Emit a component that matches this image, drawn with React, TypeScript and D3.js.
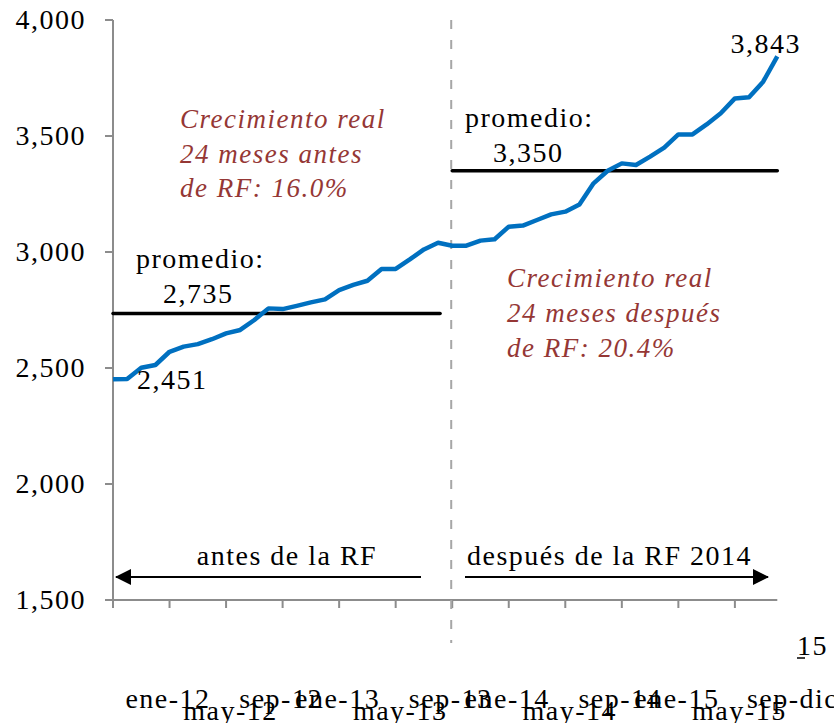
import React from "react";
import * as d3 from "d3";

// monthly values, ene-12 .. dic-15
const months = d3.range(48);
const values = [
  2451, 2453, 2501, 2513, 2570, 2592, 2603, 2624, 2649, 2664, 2707, 2757,
  2754, 2768, 2783, 2796, 2836, 2858, 2876, 2927, 2927, 2968, 3011, 3040,
  3027, 3027, 3049, 3055, 3109, 3114, 3138, 3162, 3174, 3205, 3296, 3350,
  3382, 3375, 3411, 3450, 3507, 3507, 3550, 3598, 3662, 3667, 3734, 3843,
];
const yTicks = [1500, 2000, 2500, 3000, 3500, 4000];
const xTickIdx = [0, 4, 8, 12, 16, 20, 24, 28, 32, 36, 40, 44];
const xTickLabels = [
  "ene-12", "may-12", "sep-12", "ene-13", "may-13", "sep-13",
  "ene-14", "may-14", "sep-14", "ene-15", "may-15", "sep-dic",
];
const rfIdx = 24; // ene-14, reforma fiscal
const avgBefore = 2735;
const avgAfter = 3350;

const W = 834;
const H = 723;
const serif = "'Liberation Serif', 'Times New Roman', serif";
const red = "#953735";
const axisCol = "#8c8c8c";

export default function App() {
  const x = d3.scaleLinear().domain([0, 47]).range([113, 777.3]);
  const y = d3.scaleLinear().domain([1500, 4000]).range([600, 20]);
  const line = d3
    .line<number>()
    .x((d, i) => x(i))
    .y((d) => y(d));

  const txt = { fontFamily: serif, fontSize: 28, letterSpacing: 1.5, fill: "#000" };
  const ital = { fontFamily: serif, fontSize: 27, letterSpacing: 1.5, fill: red, fontStyle: "italic" as const };

  const arrowY = 577;

  return (
    <svg
      width={W}
      height={H}
      style={{ position: "absolute", left: 0, top: 0, background: "#fff" }}
    >
      <defs>
        <marker id="ah" viewBox="0 0 10 10" refX="9" refY="5" markerWidth="9" markerHeight="9" markerUnits="userSpaceOnUse" orient="auto-start-reverse">
          <path d="M0,0 L10,5 L0,10 z" fill="#000" />
        </marker>
        <marker id="ah2" viewBox="0 0 16 16" refX="15" refY="8" markerWidth="16" markerHeight="16" markerUnits="userSpaceOnUse" orient="auto-start-reverse">
          <path d="M0,0 L16,8 L0,16 z" fill="#000" />
        </marker>
      </defs>

      {/* y axis */}
      <line x1={x(0)} x2={x(0)} y1={y(4000)} y2={y(1500)} stroke={axisCol} strokeWidth={2} />
      {yTicks.map((t) => (
        <g key={t}>
          <line x1={x(0) - 8} x2={x(0)} y1={y(t)} y2={y(t)} stroke={axisCol} strokeWidth={2} />
          <text x={86} y={y(t) + 9} textAnchor="end" {...txt}>
            {d3.format(",")(t)}
          </text>
        </g>
      ))}

      {/* x axis */}
      <line x1={x(0)} x2={x(47)} y1={y(1500)} y2={y(1500)} stroke={axisCol} strokeWidth={2} />
      {xTickIdx.map((i) => (
        <line key={i} x1={x(i)} x2={x(i)} y1={y(1500)} y2={y(1500) + 8} stroke={axisCol} strokeWidth={2} />
      ))}
      {xTickIdx.map((i, k) => {
        const lower = k % 3 === 1;
        const last = k === xTickIdx.length - 1;
        return (
          <text
            key={"l" + i}
            x={last ? x(i) + 12 : x(i) + (lower ? 61 : 55)}
            y={lower ? 720 : 708}
            textAnchor={last ? "start" : "middle"}
            {...txt}
          >
            {xTickLabels[k]}
          </text>
        );
      })}
      <text x={797} y={655} {...txt}>15</text>
      <line x1={797} x2={805} y1={658} y2={658} stroke="#000" strokeWidth={1.5} />

      {/* reforma fiscal */}
      <line
        x1={x(rfIdx) - 1}
        x2={x(rfIdx) - 1}
        y1={y(4000)}
        y2={643}
        stroke="#a6a6a6"
        strokeWidth={2}
        strokeDasharray="9,11"
      />

      {/* promedios */}
      <line x1={x(0)} x2={x(23) + 2} y1={y(avgBefore)} y2={y(avgBefore)} stroke="#000" strokeWidth={3.5} strokeLinecap="round" />
      <line x1={x(rfIdx)} x2={x(47)} y1={y(avgAfter)} y2={y(avgAfter)} stroke="#000" strokeWidth={3.5} strokeLinecap="round" />

      {/* serie */}
      <path d={line(values) || ""} fill="none" stroke="#0070c0" strokeWidth={4.5} strokeLinejoin="round" />

      {/* textos */}
      <text x={136} y={268} {...txt}>promedio:</text>
      <text x={163} y={303} {...txt}>{d3.format(",")(avgBefore)}</text>
      <text x={465} y={127} {...txt}>promedio:</text>
      <text x={493} y={162} {...txt}>{d3.format(",")(avgAfter)}</text>
      <text x={137} y={389} {...txt}>{d3.format(",")(values[0])}</text>
      <text x={801} y={53} textAnchor="end" {...txt}>{d3.format(",")(values[47])}</text>

      <text x={180} y={128} {...ital}>Crecimiento real</text>
      <text x={180} y={163} {...ital}>24 meses antes</text>
      <text x={180} y={197} {...ital}>de RF: 16.0%</text>
      <text x={507} y={287} {...ital}>Crecimiento real</text>
      <text x={507} y={322} {...ital}>24 meses después</text>
      <text x={507} y={357} {...ital}>de RF: 20.4%</text>

      {/* flechas */}
      <line x1={421} x2={116} y1={arrowY} y2={arrowY} stroke="#000" strokeWidth={2} markerEnd="url(#ah2)" />
      <line x1={465} x2={768} y1={arrowY} y2={arrowY} stroke="#000" strokeWidth={2} markerEnd="url(#ah2)" />
      <text x={287} y={565} textAnchor="middle" {...txt}>antes de la RF</text>
      <text x={467} y={565} {...txt}>después de la RF 2014</text>
    </svg>
  );
}
